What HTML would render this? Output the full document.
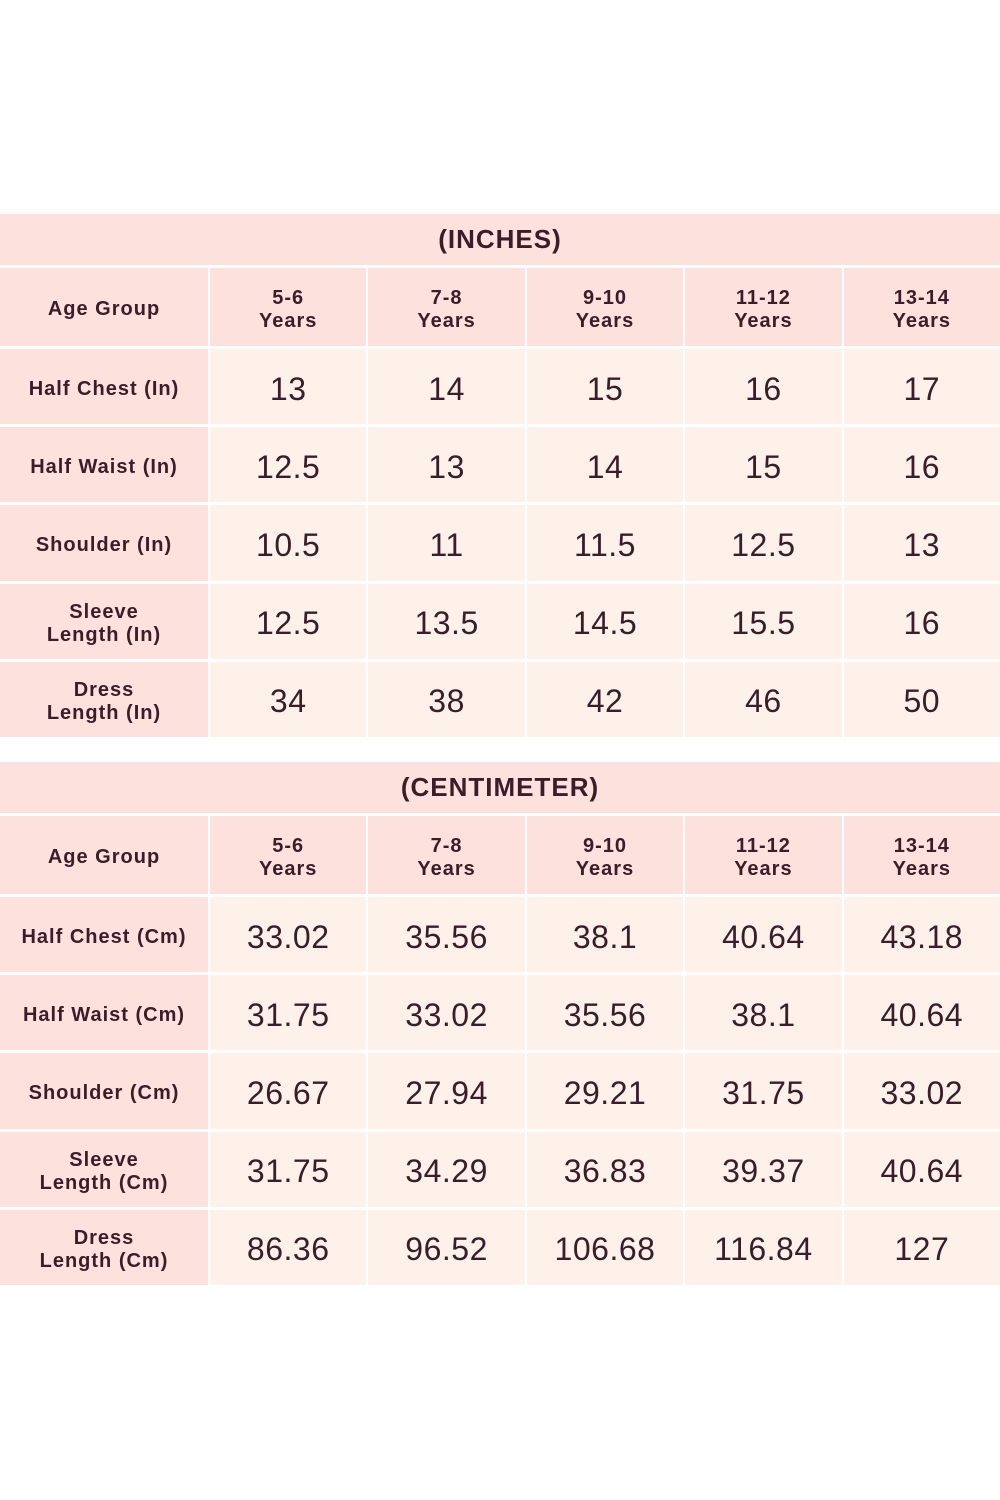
<!DOCTYPE html>
<html><head><meta charset="utf-8"><style>
body{margin:0;width:1000px;height:1500px;background:#fff;font-family:"Liberation Sans","DejaVu Sans",sans-serif;color:#3a1c2b;position:relative;overflow:hidden}
.t{position:absolute;left:0;width:1000px;height:51px;background:#fde1dc;text-align:center;line-height:50px;font-size:26px;font-weight:bold;letter-spacing:1px}
.g{position:absolute;left:0;width:1000px;display:grid;grid-template-columns:208px repeat(5,1fr);grid-template-rows:78px repeat(5,75.2px);gap:3px 2px}
.g div{display:flex;align-items:center;justify-content:center;text-align:center;padding-top:5px;box-sizing:border-box}
.h{background:#fde1dc;font-size:20px;font-weight:bold;line-height:23px;letter-spacing:1px}
.d{background:#fdf1ea;font-size:32px;letter-spacing:0.5px}
</style></head><body>
<div class="t" style="top:214px">(INCHES)</div>
<div class="g" style="top:268px">
<div class="h">Age Group</div><div class="h">5-6<br>Years</div><div class="h">7-8<br>Years</div><div class="h">9-10<br>Years</div><div class="h">11-12<br>Years</div><div class="h">13-14<br>Years</div>
<div class="h">Half Chest (In)</div><div class="d">13</div><div class="d">14</div><div class="d">15</div><div class="d">16</div><div class="d">17</div>
<div class="h">Half Waist (In)</div><div class="d">12.5</div><div class="d">13</div><div class="d">14</div><div class="d">15</div><div class="d">16</div>
<div class="h">Shoulder (In)</div><div class="d">10.5</div><div class="d">11</div><div class="d">11.5</div><div class="d">12.5</div><div class="d">13</div>
<div class="h">Sleeve<br>Length (In)</div><div class="d">12.5</div><div class="d">13.5</div><div class="d">14.5</div><div class="d">15.5</div><div class="d">16</div>
<div class="h">Dress<br>Length (In)</div><div class="d">34</div><div class="d">38</div><div class="d">42</div><div class="d">46</div><div class="d">50</div>
</div>
<div class="t" style="top:762px">(CENTIMETER)</div>
<div class="g" style="top:816px">
<div class="h">Age Group</div><div class="h">5-6<br>Years</div><div class="h">7-8<br>Years</div><div class="h">9-10<br>Years</div><div class="h">11-12<br>Years</div><div class="h">13-14<br>Years</div>
<div class="h">Half Chest (Cm)</div><div class="d">33.02</div><div class="d">35.56</div><div class="d">38.1</div><div class="d">40.64</div><div class="d">43.18</div>
<div class="h">Half Waist (Cm)</div><div class="d">31.75</div><div class="d">33.02</div><div class="d">35.56</div><div class="d">38.1</div><div class="d">40.64</div>
<div class="h">Shoulder (Cm)</div><div class="d">26.67</div><div class="d">27.94</div><div class="d">29.21</div><div class="d">31.75</div><div class="d">33.02</div>
<div class="h">Sleeve<br>Length (Cm)</div><div class="d">31.75</div><div class="d">34.29</div><div class="d">36.83</div><div class="d">39.37</div><div class="d">40.64</div>
<div class="h">Dress<br>Length (Cm)</div><div class="d">86.36</div><div class="d">96.52</div><div class="d">106.68</div><div class="d">116.84</div><div class="d">127</div>
</div>
</body></html>
